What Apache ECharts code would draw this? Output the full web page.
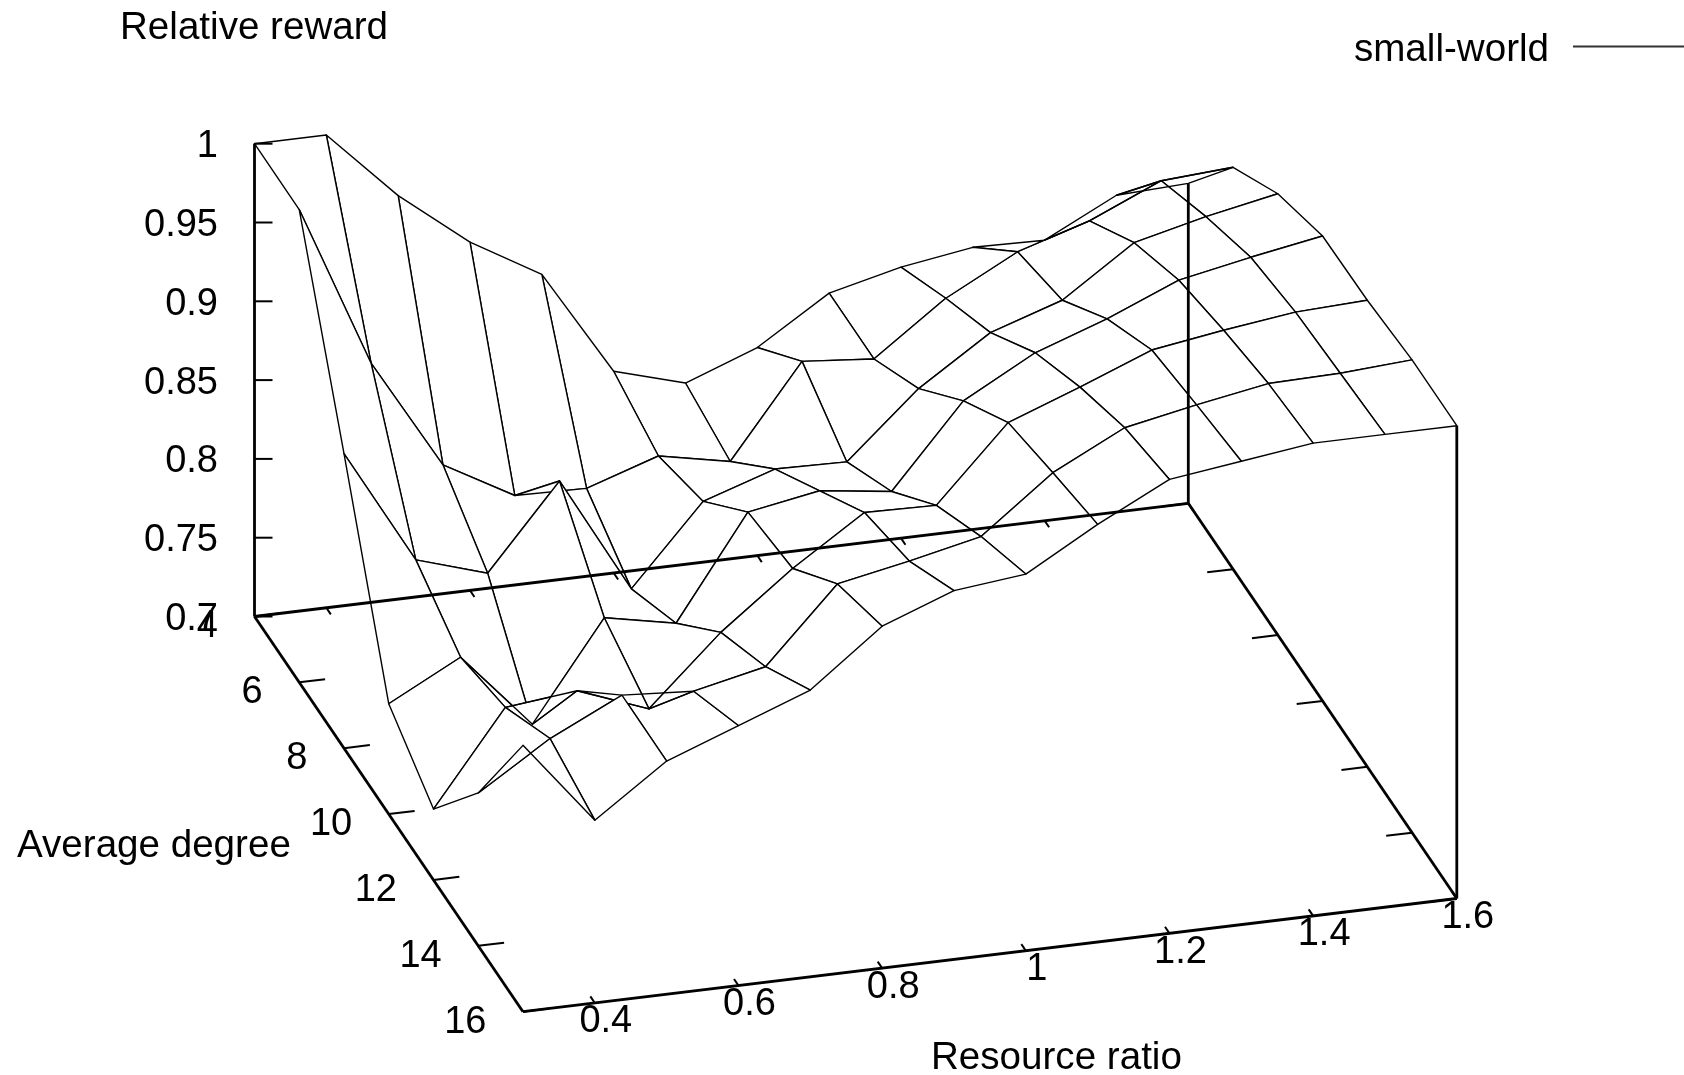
<!DOCTYPE html>
<html>
<head>
<meta charset="utf-8">
<style>html,body{margin:0;padding:0;background:#fff}#c{width:1684px;height:1075px}</style>
<script src="https://cdn.jsdelivr.net/npm/echarts@6/dist/echarts.min.js"></script>
</head>
<body>
<div id="c"></div>
<script>
// ---- data ----
const resourceRatio = [0.3,0.4,0.5,0.6,0.7,0.8,0.9,1.0,1.1,1.2,1.3,1.4,1.5,1.6];
const averageDegree = [4,6,8,10,12,14,16];
const rewardDegree4  = [1.000,1.000,0.956,0.921,0.895,0.828,0.815,0.832,0.861,0.872,0.879,0.878,0.901,0.903];
const rewardDegree6  = [1.000,0.897,0.827,0.802,0.801,0.816,0.807,0.865,0.861,0.894,0.918,0.932,0.952,0.955];
const rewardDegree8  = [0.887,0.814,0.800,0.853,0.779,0.829,0.844,0.843,0.884,0.914,0.929,0.960,0.971,0.980];
const rewardDegree10 = [0.770,0.794,0.746,0.808,0.799,0.864,0.872,0.866,0.918,0.943,0.959,0.978,0.987,0.995];
const rewardDegree12 = [0.745,0.804,0.809,0.792,0.835,0.870,0.900,0.899,0.946,0.963,0.981,0.988,0.994,0.996];
const rewardDegree14 = [0.797,0.826,0.848,0.845,0.855,0.902,0.911,0.921,0.956,0.979,0.988,0.996,0.997,1.000];
const rewardDegree16 = [0.869,0.816,0.848,0.865,0.882,0.917,0.934,0.939,0.965,0.988,0.994,1.000,1.000,1.000];
const rewardRows = [rewardDegree4,rewardDegree6,rewardDegree8,rewardDegree10,rewardDegree12,rewardDegree14,rewardDegree16];
const xTicks = [0.4,0.6,0.8,1,1.2,1.4,1.6];
const yTicks = [4,6,8,10,12,14,16];
const zTicks = [0.7,0.75,0.8,0.85,0.9,0.95,1];
const seriesName = 'small-world';
const xTitle = 'Resource ratio', yTitle = 'Average degree', zTitle = 'Relative reward';

// ---- oblique projection of the gnuplot view onto a page-sized cartesian ----
const X0=0.3,X1=1.6,Y0=4,Y1=16,Z0=0.7,Z1=1;
function proj(x,y,z){
  const u=(x-X0)/(X1-X0), v=(y-Y0)/(Y1-Y0), w=(z-Z0)/(Z1-Z0);
  return [254.5+933.8*u+268.5*v, 616.5-113.2*u+395.2*v-472.8*w];
}
const FONT='38px "Liberation Sans", Arial, sans-serif';
const TITLE_FONT='38.6px "Liberation Sans", Arial, sans-serif';
const INK='#000';

// cells ordered back to front so each white facet hides what lies behind it;
// a few facets are painted earlier, or stay unfilled, where the reference's wires show through
const early=[[12,1],[11,1],[10,1],[9,1]];
const late=[[1,4],[2,5]];
const unfilled=[[1,3],[2,4],[12,0],[11,0]];
const isIn=(list,i,j)=>list.some(c=>c[0]===i&&c[1]===j);
const cells=[];
function pushRow(j){
  const row=[];
  for(let i=resourceRatio.length-2;i>=0;i--) if(!isIn(early,i,j)&&!isIn(late,i,j)) row.push([i,j]);
  if(j===1){ // the facet left of the peak goes first so the row wire passes in front of it
    const a=row.findIndex(c=>c[0]===3), b=row.findIndex(c=>c[0]===2);
    const t=row[a]; row[a]=row[b]; row[b]=t;
  }
  cells.push(...row);
}
early.forEach(c=>cells.push(c));
pushRow(0); pushRow(1); pushRow(2);
late.forEach(c=>cells.push(c));
pushRow(3); pushRow(4); pushRow(5);

function renderCell(params,api){
  const i=api.value(0), j=api.value(1);
  const c=[[i,j],[i+1,j],[i+1,j+1],[i,j+1]].map(([a,b])=>
    api.coord(proj(resourceRatio[a],averageDegree[b],rewardRows[b][a])));
  return {type:'polygon',shape:{points:c},
    style:{fill:isIn(unfilled,i,j)?'none':'#fff',stroke:'#000',lineWidth:1.4,lineJoin:'round'}};
}

function seg(api,a,b,w){
  const p=api.coord(a), q=api.coord(b);
  return {type:'line',shape:{x1:p[0],y1:p[1],x2:q[0],y2:q[1]},
    style:{stroke:INK,lineWidth:w,lineCap:'butt'}};
}
function txt(api,pt,dx,dy,s,align){
  const p=api.coord(pt);
  return {type:'text',x:p[0]+dx,y:p[1]+dy,
    style:{text:s,font:FONT,fill:INK,align:align,verticalAlign:'middle'}};
}
function renderFrame(params,api){
  const ch=[];
  const lastZ=rewardRows[0][rewardRows[0].length-1];
  const W=2.8, T=2;
  // floor border
  ch.push(seg(api,proj(X0,Y0,Z0),proj(X1,Y0,Z0),W));
  ch.push(seg(api,proj(X0,Y0,Z0),proj(X0,Y1,Z0),W));
  ch.push(seg(api,proj(X0,Y1,Z0),proj(X1,Y1,Z0),W));
  ch.push(seg(api,proj(X1,Y0,Z0),proj(X1,Y1,Z0),W));
  // verticals
  ch.push(seg(api,proj(X0,Y0,Z0),proj(X0,Y0,Z1),W));
  ch.push(seg(api,proj(X1,Y0,Z0),proj(X1,Y0,lastZ),W));
  ch.push(seg(api,proj(X1,Y1,Z0),proj(X1,Y1,Z1),W));
  // x ticks, front and back
  xTicks.forEach(t=>{
    ch.push(seg(api,proj(t,Y1,Z0),proj(t,Y1-0.2,Z0),T));
    ch.push(seg(api,proj(t,Y0,Z0),proj(t,Y0+0.2,Z0),T));
    ch.push(txt(api,proj(t,Y1,Z0),11,19,String(t),'center'));
  });
  // y ticks, left and right
  yTicks.forEach(t=>{
    ch.push(seg(api,proj(X0,t,Z0),proj(X0+0.036,t,Z0),T));
    ch.push(seg(api,proj(X1,t,Z0),proj(X1-0.036,t,Z0),T));
    ch.push(txt(api,proj(X0,t,Z0),-36.5,10.5,String(t),'right'));
  });
  // z ticks
  zTicks.forEach(t=>{
    const p=proj(X0,Y0,t);
    ch.push(seg(api,p,[p[0]+18,p[1]],T));
    ch.push(txt(api,p,-36.5,3,String(t),'right'));
  });
  return {type:'group',children:ch};
}

const chart=echarts.init(document.getElementById('c'),null,{renderer:'canvas'});
chart.setOption({
  animation:false,
  backgroundColor:'#fff',
  grid:{left:0,right:0,top:0,bottom:0},
  xAxis:{type:'value',min:0,max:1684,show:false},
  yAxis:{type:'value',min:0,max:1075,inverse:true,show:false},
  legend:{
    show:true,right:0,top:31,padding:0,align:'right',
    itemWidth:111,itemHeight:2,itemGap:0,
    data:[{name:seriesName,icon:'rect'}],
    itemStyle:{color:'#333',borderWidth:0},
    formatter:function(n){return '{a|'+n+'}';},
    textStyle:{
      fontFamily:'"Liberation Sans", Arial, sans-serif',fontSize:38.6,color:INK,
      rich:{a:{fontFamily:'"Liberation Sans", Arial, sans-serif',fontSize:38.6,color:INK,padding:[8,19,0,0]}}
    },
    selectedMode:false
  },
  graphic:[
    {type:'text',left:120,top:9,style:{text:zTitle,font:TITLE_FONT,fill:INK}},
    {type:'text',left:17,top:827,style:{text:yTitle,font:TITLE_FONT,fill:INK}},
    {type:'text',left:931,top:1039,style:{text:xTitle,font:TITLE_FONT,fill:INK}}
  ],
  series:[
    {name:seriesName,type:'custom',coordinateSystem:'cartesian2d',clip:false,silent:true,
     renderItem:renderCell,data:cells,encode:{x:0,y:1}},
    {name:'frame',type:'custom',coordinateSystem:'cartesian2d',clip:false,silent:true,z:5,
     renderItem:renderFrame,data:[[0,0]]}
  ]
});
</script>
</body>
</html>
